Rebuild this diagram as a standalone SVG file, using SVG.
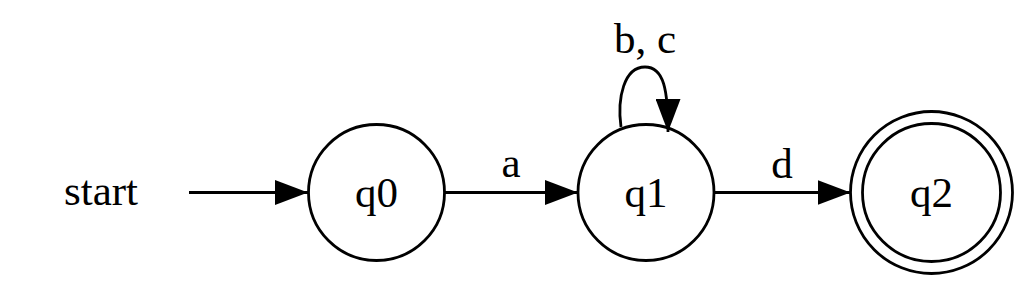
<svg xmlns="http://www.w3.org/2000/svg" width="1024" height="285" viewBox="0 0 1024 285">
<style>
.n{fill:none;stroke:#000;stroke-width:2.8}
.e{fill:none;stroke:#000;stroke-width:2.8}
text{font-family:"Liberation Serif","Times New Roman",serif;font-size:43px;fill:#000;text-anchor:middle}
</style>
<defs>
<marker id="ah" viewBox="0 0 33 25" refX="33" refY="12.5" markerWidth="33" markerHeight="25" markerUnits="userSpaceOnUse" orient="auto">
<path d="M0,0 L33,12.5 L0,25 Z" fill="#000"/>
</marker>
</defs>
<g id="start"><text x="101" y="205">start</text></g>
<g id="q0"><circle class="n" cx="376.5" cy="192.5" r="68"/><text x="376.5" y="206.5">q0</text></g>
<g id="q1"><circle class="n" cx="646" cy="192.5" r="68"/><text x="646" y="206.5">q1</text></g>
<g id="q2"><circle class="n" cx="931.5" cy="192.5" r="81"/><circle class="n" cx="931.5" cy="192.5" r="69"/><text x="931.5" y="206.5">q2</text></g>
<g id="connectors">
<path class="e" d="M189,192.5 L308,192.5" marker-end="url(#ah)"/>
<path class="e" d="M445,192.5 L578,192.5" marker-end="url(#ah)"/>
<text x="511" y="177">a</text>
<path class="e" d="M714,192.5 L850.5,192.5" marker-end="url(#ah)"/>
<text x="782" y="178">d</text>
<path class="e" d="M621,127 C617,98 624,67 645,67 C664,67 668,90 668,132" marker-end="url(#ah)"/>
<text x="645" y="53">b, c</text>
</g>
</svg>
